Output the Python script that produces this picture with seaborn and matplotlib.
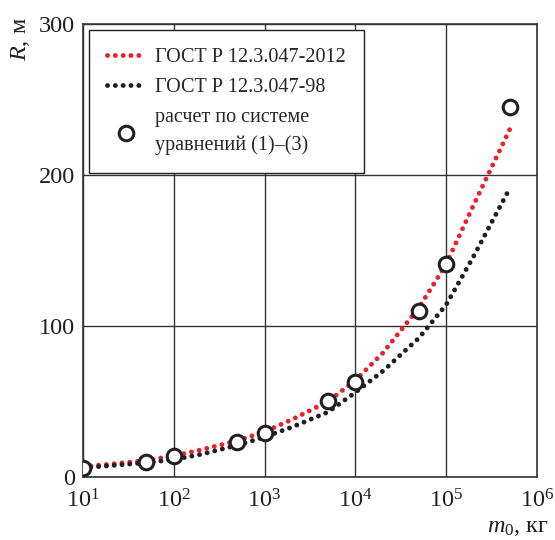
"""
Радиус зоны поражения R в зависимости от массы m0 (лог. шкала).
"""

import numpy as np
import pandas as pd
import matplotlib
import matplotlib.pyplot as plt
import seaborn as sns

# кривые ГОСТ, значения
M_CURVE = [10, 20, 50, 100, 200, 500, 1e3, 2e3, 5e3, 1e4, 2e4, 5e4, 1e5, 2e5, 5e5]
R_2012 = [7, 8.5, 11, 14, 18, 24, 30, 38, 50, 64, 82, 112, 141, 180, 230]
R_98 = [6, 7.5, 9.5, 11.5, 15, 21, 26.5, 33, 43, 56, 70, 92, 114, 146, 191]

# расчет по системе уравнений (1)-(3)
M_CALC = [10, 50, 100, 500, 1e3, 5e3, 1e4, 5e4, 1e5, 5e5]
R_CALC = [6, 10, 14, 23, 29, 50, 63, 110, 141, 245]

X_TICKS = [1e1, 1e2, 1e3, 1e4, 1e5, 1e6]
X_TICKLABELS = ["10$^{1}$", "10$^{2}$", "10$^{3}$", "10$^{4}$", "10$^{5}$", "10$^{6}$"]
Y_TICKS = [0, 100, 200, 300]

LABEL_2012 = "ГОСТ Р 12.3.047-2012"
LABEL_98 = "ГОСТ Р 12.3.047-98"
LABEL_CALC = "расчет по системе\nуравнений (1)–(3)"

RED = "#e8212b"
BLACK = "#231f20"

sns.set_theme(style="white")
plt.rcParams["font.family"] = ["Liberation Serif", "DejaVu Serif"]
plt.rcParams["mathtext.fontset"] = "custom"
plt.rcParams["mathtext.rm"] = "Liberation Serif"
plt.rcParams["mathtext.it"] = "Liberation Serif:italic"
matplotlib.rcParams["axes.unicode_minus"] = False

curves = pd.DataFrame({"m": M_CURVE, "r2012": R_2012, "r98": R_98})
calc = pd.DataFrame({"m": M_CALC, "r": R_CALC})

fig = plt.figure(figsize=(5.55, 5.40), dpi=100)
ax = fig.add_axes([0.1495, 0.1167, 0.818, 0.839])

dot_style = dict(linestyle=(0, (0.01, 1.6)), linewidth=3.5,
                 dash_capstyle="round", solid_capstyle="round")

sns.lineplot(data=curves, x="m", y="r2012", color=RED, label=LABEL_2012,
             ax=ax, **dot_style)
sns.lineplot(data=curves, x="m", y="r98", color=BLACK, label=LABEL_98,
             ax=ax, **dot_style)
sns.scatterplot(data=calc, x="m", y="r", s=110, facecolor="white",
                edgecolor=BLACK, linewidth=2.2, label=LABEL_CALC, zorder=5, ax=ax)

ax.set_xscale("log")
ax.set_xlim(10, 1e6)
ax.set_ylim(0, 300)
ax.set_xticks(X_TICKS)
ax.set_xticklabels(X_TICKLABELS)
ax.set_yticks(Y_TICKS)
ax.minorticks_off()
ax.tick_params(axis="both", length=0, labelsize=17.5, colors=BLACK)
ax.tick_params(axis="x", pad=9)
ax.tick_params(axis="y", pad=6)
ax.grid(True, color="#333333", linewidth=1.0)
for sp in ax.spines.values():
    sp.set_color("#333333")
    sp.set_linewidth(1.2)

ax.set_xlabel("")
ax.set_ylabel("")
fig.text(0.037, 0.968, "$R$, м", rotation=90, ha="center", va="top",
         fontsize=17.5, color=BLACK)
fig.text(0.988, 0.014, "$m_0$, кг", ha="right", va="baseline",
         fontsize=17.5, color=BLACK)

leg = ax.legend(loc="upper left", bbox_to_anchor=(0.013, 0.987),
                borderaxespad=0, fancybox=False, framealpha=1,
                edgecolor=BLACK, fontsize=14.5, handlelength=1.9,
                handletextpad=0.5, labelspacing=0.55, borderpad=0.9)
leg.get_frame().set_linewidth(1.0)
leg.get_texts()[2].set_linespacing(1.55)

fig.savefig("out.png", dpi=100)
plt.close(fig)
